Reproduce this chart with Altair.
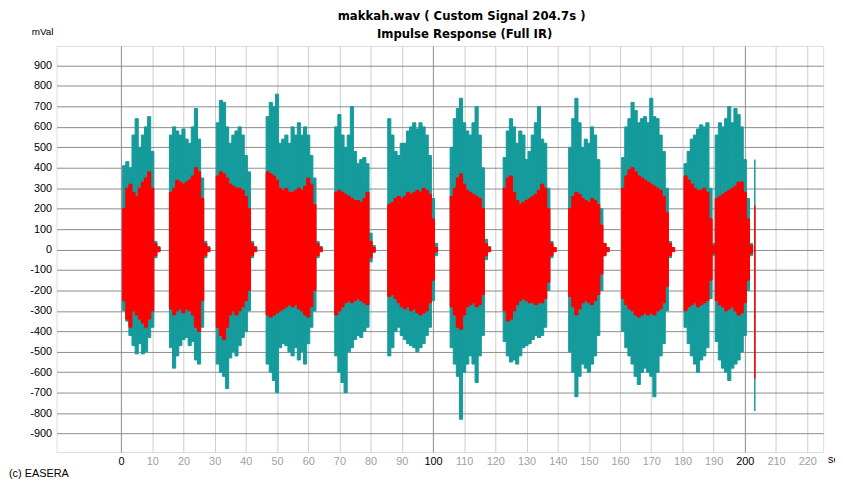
import altair as alt
import pandas as pd

# ---- data (per-second envelope of the impulse response, mVal) ----
seconds = list(range(203))
teal_max = [
    0,
    410, 430, 400, 560, 640, 500, 560, 600, 650, 480,
    40, 15, 0, 0, 0, 560, 600, 580, 560, 590,
    540, 520, 600, 690, 540, 350, 40, 15, 0, 0,
    620, 730, 720, 600, 520, 560, 580, 600, 560, 460,
    380, 40, 15, 0, 0, 0, 650, 720, 700, 760,
    520, 540, 560, 520, 600, 560, 620, 560, 600, 560,
    460, 350, 40, 15, 0, 0, 0, 0, 600, 660,
    560, 500, 560, 700, 480, 420, 440, 450, 420, 80,
    20, 0, 0, 0, 0, 640, 560, 480, 460, 520,
    520, 580, 600, 620, 590, 620, 600, 560, 460, 250,
    30, 0, 0, 0, 0, 500, 640, 690, 740, 620,
    580, 560, 620, 700, 560, 400, 50, 15, 0, 0,
    0, 0, 450, 580, 640, 600, 520, 580, 560, 440,
    480, 560, 620, 700, 540, 520, 300, 40, 10, 0,
    0, 0, 0, 500, 640, 740, 620, 500, 540, 520,
    600, 560, 440, 200, 30, 10, 0, 0, 0, 0,
    450, 600, 640, 720, 680, 620, 640, 650, 620, 740,
    650, 640, 560, 480, 300, 40, 10, 0, 0, 0,
    420, 480, 540, 560, 590, 610, 600, 620, 300, 30,
    560, 620, 600, 640, 700, 620, 690, 660, 600, 440,
    250, 30,
]
teal_min = [
    0,
    -300, -350, -420, -470, -510, -460, -510, -500, -430, -380,
    -40, -10, 0, 0, 0, -480, -580, -520, -470, -440,
    -430, -470, -450, -540, -560, -380, -40, -10, 0, 0,
    -560, -600, -620, -680, -530, -500, -520, -470, -430, -400,
    -300, -40, -10, 0, 0, 0, -560, -600, -640, -700,
    -480, -460, -470, -500, -520, -480, -540, -500, -560, -460,
    -380, -300, -40, -10, 0, 0, 0, 0, -520, -600,
    -650, -700, -500, -480, -440, -420, -430, -400, -380, -60,
    -15, 0, 0, 0, 0, -520, -480, -400, -380, -420,
    -440, -460, -470, -480, -500, -480, -460, -420, -380, -250,
    -30, 0, 0, 0, 0, -480, -560, -620, -830, -600,
    -560, -520, -560, -650, -520, -420, -50, -10, 0, 0,
    0, 0, -450, -520, -550, -540, -560, -520, -480, -470,
    -460, -440, -420, -430, -420, -380, -200, -40, -10, 0,
    0, 0, 0, -500, -600, -720, -620, -560, -580, -600,
    -560, -520, -420, -200, -30, -10, 0, 0, 0, 0,
    -400, -480, -520, -560, -620, -660, -600, -580, -600, -620,
    -720, -600, -520, -460, -300, -40, -10, 0, 0, 0,
    -380, -460, -520, -560, -600, -540, -520, -480, -240, -30,
    -450, -540, -580, -600, -640, -580, -560, -540, -500, -420,
    -200, -30,
]
red_max = [
    0,
    200, 300, 320, 280, 260, 300, 330, 350, 380, 300,
    30, 10, 0, 0, 0, 280, 300, 340, 330, 320,
    330, 340, 360, 400, 380, 250, 30, 10, 0, 0,
    360, 380, 370, 350, 320, 310, 300, 300, 290, 260,
    200, 30, 10, 0, 0, 0, 380, 370, 360, 340,
    300, 290, 300, 280, 280, 290, 300, 290, 310, 350,
    320, 220, 30, 10, 0, 0, 0, 0, 280, 290,
    280, 270, 260, 250, 240, 240, 230, 250, 280, 40,
    10, 0, 0, 0, 0, 220, 230, 250, 260, 250,
    260, 280, 270, 280, 290, 280, 300, 290, 270, 150,
    10, 0, 0, 0, 0, 260, 300, 350, 370, 320,
    290, 280, 270, 260, 250, 200, 30, 10, 0, 0,
    0, 0, 300, 350, 360, 280, 240, 220, 230, 240,
    250, 260, 270, 290, 320, 300, 200, 30, 10, 0,
    0, 0, 0, 200, 260, 280, 270, 250, 240, 230,
    250, 240, 220, 120, 30, 10, 0, 0, 0, 0,
    300, 360, 390, 400, 380, 360, 350, 340, 330, 320,
    310, 300, 290, 260, 180, 30, 10, 0, 0, 0,
    360, 340, 320, 300, 290, 290, 300, 280, 150, 20,
    250, 260, 270, 280, 290, 300, 310, 330, 330, 280,
    150, 20,
]
red_min = [
    0,
    -250, -340, -380, -300, -320, -340, -360, -380, -340, -300,
    -30, -10, 0, 0, 0, -290, -320, -300, -290, -310,
    -290, -300, -320, -380, -400, -250, -30, -10, 0, 0,
    -380, -420, -440, -380, -320, -300, -320, -300, -280, -250,
    -200, -30, -10, 0, 0, 0, -320, -330, -320, -310,
    -300, -290, -280, -270, -280, -270, -290, -300, -320, -330,
    -280, -200, -30, -10, 0, 0, 0, 0, -320, -300,
    -280, -260, -250, -260, -250, -240, -250, -260, -270, -40,
    -10, 0, 0, 0, 0, -230, -220, -240, -260, -280,
    -290, -280, -300, -290, -310, -320, -310, -300, -260, -150,
    -10, 0, 0, 0, 0, -280, -320, -380, -390, -320,
    -280, -270, -260, -280, -270, -220, -30, -10, 0, 0,
    0, 0, -300, -350, -340, -300, -270, -250, -240, -250,
    -260, -260, -270, -260, -260, -240, -160, -30, -10, 0,
    0, 0, 0, -230, -280, -320, -290, -260, -250, -260,
    -270, -250, -220, -120, -30, -10, 0, 0, 0, 0,
    -240, -270, -290, -300, -320, -330, -320, -310, -320, -310,
    -320, -300, -290, -260, -180, -30, -10, 0, 0, 0,
    -300, -280, -270, -260, -280, -270, -260, -250, -150, -20,
    -250, -270, -280, -300, -290, -280, -300, -320, -310, -260,
    -150, -20,
]
# final short click at the end of the signal
spike_t = [203.2]
spike_teal_max = [440]
spike_teal_min = [-790]
spike_red_max = [216]
spike_red_min = [-630]

x_ticks = list(range(0, 230, 10))
y_ticks = list(range(-900, 1000, 100))
title_lines = ["makkah.wav ( Custom Signal 204.7s )", "Impulse Response (Full IR)"]
unit_label = ["mVal"]
x_unit_label = ["sec"]
credit = ["(c) EASERA"]

TEAL = "#159b9b"
RED = "#ff0000"
FONT = "Liberation Sans"

df = pd.DataFrame({"t": seconds, "tmax": teal_max, "tmin": teal_min,
                   "rmax": red_max, "rmin": red_min})
df = df[(df.tmax != 0) | (df.tmin != 0)].copy()
df["t0"] = df.t - 0.5
df["t1"] = df.t + 0.5

sp = pd.DataFrame({"t": spike_t, "tmax": spike_teal_max, "tmin": spike_teal_min,
                   "rmax": spike_red_max, "rmin": spike_red_min})

xscale = alt.Scale(domain=[-20.7, 225.1], nice=False, zero=False)
yscale = alt.Scale(domain=[-990, 996], nice=False, zero=False)

xaxis = alt.Axis(
    values=x_ticks, title=None, grid=True, ticks=False, domain=False,
    gridColor={"condition": {"test": "datum.value % 100 === 0", "value": "#8a8a8a"}, "value": "#cdcdcd"},
    labelColor={"condition": {"test": "datum.value % 100 === 0", "value": "#000000"}, "value": "#a0a0a0"},
    labelFont=FONT, labelFontSize=11, labelPadding=4, labelFlush=False, labelOverlap=False,
)
yaxis = alt.Axis(
    values=y_ticks, title=None, grid=True, ticks=False, domain=False,
    gridColor="#8c8c8c", labelColor="#000000", labelFont=FONT, labelFontSize=11,
    labelPadding=5, labelOverlap=False, labelFlush=False, labelBound=False,
    labelExpr="replace(format(datum.value, 'd'), '\u2212', '-')",
)

def X(field):
    return alt.X(field, type="quantitative", scale=xscale, axis=xaxis)

def Y(field):
    return alt.Y(field, type="quantitative", scale=yscale, axis=yaxis)

base = alt.Chart(df)
teal = base.mark_rect(color=TEAL, stroke=TEAL, strokeWidth=1).encode(
    x=X("t0"), x2="t1:Q", y=Y("tmin"), y2="tmax:Q",
)
red = base.mark_rect(color=RED, stroke=RED, strokeWidth=1).encode(
    x=X("t0"), x2="t1:Q", y=Y("rmin"), y2="rmax:Q",
)
sp_base = alt.Chart(sp)
sp_teal = sp_base.mark_rule(color=TEAL, strokeWidth=1.5).encode(
    x=X("t"), y=Y("tmin"), y2="tmax:Q")
sp_red = sp_base.mark_rule(color=RED, strokeWidth=1.5).encode(
    x=X("t"), y=Y("rmin"), y2="rmax:Q")

t1 = alt.Chart(pd.DataFrame({"s": [title_lines[0]]})).mark_text(
    font="DejaVu Sans", fontSize=11.8, fontWeight="bold", align="center", baseline="alphabetic", color="#000"
).encode(x=alt.value(409), y=alt.value(-26), text="s:N")
t2 = alt.Chart(pd.DataFrame({"s": [title_lines[1]]})).mark_text(
    font="DejaVu Sans", fontSize=11.8, fontWeight="bold", align="center", baseline="alphabetic", color="#000"
).encode(x=alt.value(412), y=alt.value(-8), text="s:N")
mval = alt.Chart(pd.DataFrame({"s": unit_label})).mark_text(
    font=FONT, fontSize=10, align="left", baseline="alphabetic", color="#000"
).encode(x=alt.value(-25), y=alt.value(-11), text="s:N")
sec = alt.Chart(pd.DataFrame({"s": x_unit_label})).mark_text(
    font=FONT, fontSize=11, align="left", baseline="alphabetic", color="#000"
).encode(x=alt.value(779), y=alt.value(421), text="s:N")
cred = alt.Chart(pd.DataFrame({"s": credit})).mark_text(
    font=FONT, fontSize=11, align="left", baseline="alphabetic", color="#000"
).encode(x=alt.value(-48), y=alt.value(435), text="s:N")

chart = alt.layer(teal, red, sp_teal, sp_red, t1, t2, mval, sec, cred).properties(
    width=774, height=410,
    autosize=alt.AutoSizeParams(type="none"),
    padding={"left": 49, "top": 36, "right": 12, "bottom": 26},
).configure_view(stroke="#1e1e1e", strokeWidth=1).configure_axis(
    labelOverlap=False
).configure(background="white")

chart.save("out.html", embed_options={"renderer": "svg", "actions": False})
